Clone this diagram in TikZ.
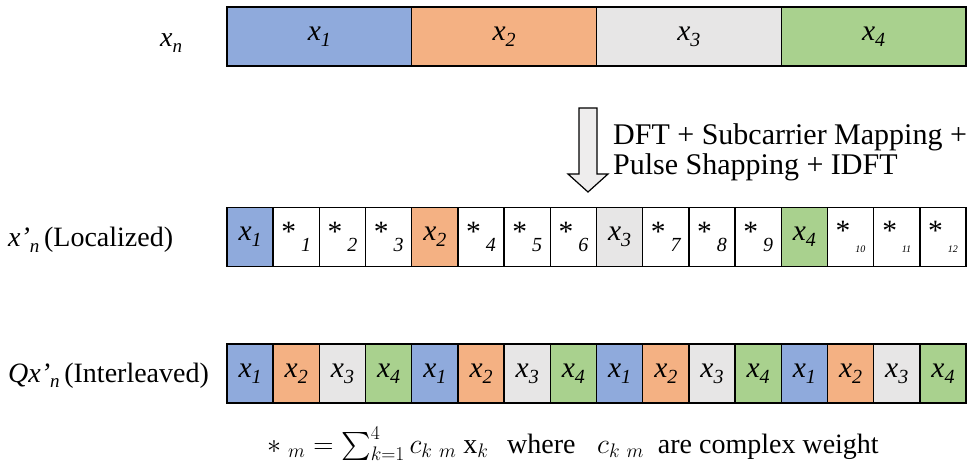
\RequirePackage{fix-cm}
\documentclass[tikz,border=0pt]{standalone}
\usepackage{amsmath}
\usepackage{fontspec}
\setmainfont{Liberation Serif}
\DeclareFontShape{OMX}{cmex}{m}{n}{<->cmex10}{}
\definecolor{cblue}{HTML}{8FAADC}
\definecolor{corange}{HTML}{F4B183}
\definecolor{cgrey}{HTML}{E7E6E6}
\definecolor{cgreen}{HTML}{A9D18E}
\newcommand{\xv}[1]{{\itshape x\raisebox{-0.45ex}{\fontsize{20}{20}\selectfont #1}}}
\newcommand{\sv}[1]{*\,\raisebox{-0.75ex}{\fontsize{20}{20}\selectfont\itshape #1}}
\newcommand{\svs}[1]{*\,\raisebox{-0.9ex}{\fontsize{10}{10}\selectfont\itshape #1}}
\begin{document}
\begin{tikzpicture}[x=1pt,y=-1pt,
  cell/.style={draw, line width=1.4pt, inner sep=0pt, outer sep=0pt, minimum height=59pt, font=\fontsize{29.5}{34}\selectfont},
  bigcell/.style={cell, minimum width=184.75pt},
  smallcell/.style={cell, minimum width=46.19pt},
  lbl/.style={inner sep=0pt, anchor=base west, font=\fontsize{28}{34}\selectfont},
  dlbl/.style={lbl, font=\fontsize{30}{36}\selectfont}]
\useasboundingbox (0,0) rectangle (970,465);
% top row
\node[bigcell, fill=cblue]   (t1) at (319.4,36.5) {\xv{1}};
\node[bigcell, fill=corange] (t2) at (504.1,36.5) {\xv{2}};
\node[bigcell, fill=cgrey]   (t3) at (688.9,36.5) {\xv{3}};
\node[bigcell, fill=cgreen]  (t4) at (873.6,36.5) {\xv{4}};
\node[lbl] (lx) at (160,47) {\itshape x\raisebox{-0.45ex}{\fontsize{19}{19}\selectfont n}};
% middle row (localized)
\foreach \i/\c/\t in {1/cblue/\xv{1},2/white/\sv{1},3/white/\sv{2},4/white/\sv{3},
  5/corange/\xv{2},6/white/\sv{4},7/white/\sv{5},8/white/\sv{6},
  9/cgrey/\xv{3},10/white/\sv{7},11/white/\sv{8},12/white/\sv{9},
  13/cgreen/\xv{4},14/white/\svs{10},15/white/\svs{11},16/white/\svs{12}}
  \node[smallcell, fill=\c] (m\i) at ({227+46.19*(\i-0.5)},237) {\t};
\node[lbl] (ll) at (8,247) {{\itshape x’\raisebox{-0.45ex}{\fontsize{19}{19}\selectfont n}}\,(Localized)};
% bottom row (interleaved)
\foreach \i/\c/\t in {1/cblue/\xv{1},2/corange/\xv{2},3/cgrey/\xv{3},4/cgreen/\xv{4},
  5/cblue/\xv{1},6/corange/\xv{2},7/cgrey/\xv{3},8/cgreen/\xv{4},
  9/cblue/\xv{1},10/corange/\xv{2},11/cgrey/\xv{3},12/cgreen/\xv{4},
  13/cblue/\xv{1},14/corange/\xv{2},15/cgrey/\xv{3},16/cgreen/\xv{4}}
  \node[smallcell, fill=\c] (b\i) at ({227+46.19*(\i-0.5)},373.5) {\t};
\node[lbl] (li) at (8,382) {{\itshape Qx’\raisebox{-0.45ex}{\fontsize{19}{19}\selectfont n}}\,(Interleaved)};
% arrow
\draw[line width=1.2pt, fill=cgrey!70]
  (579,108) -- (597,108) -- (597,174) -- (608,174) -- (588,192) -- (568,174) -- (579,174) -- cycle;
\node[dlbl] (d1) at (613,145) {DFT + Subcarrier Mapping +};
\node[dlbl] (d2) at (613,175) {Pulse Shapping + IDFT};
% formula
\node[lbl] (f1) at (267,453) {$*\ _m = \sum_{k=1}^4 c_{k\ m}\ \mathrm{x}_k$};
\node[lbl] (f2) at (507,453) {where};
\node[lbl] (f3) at (597,453) {$c_{k\ m}$\ \ are complex weight};
\end{tikzpicture}
\end{document}
